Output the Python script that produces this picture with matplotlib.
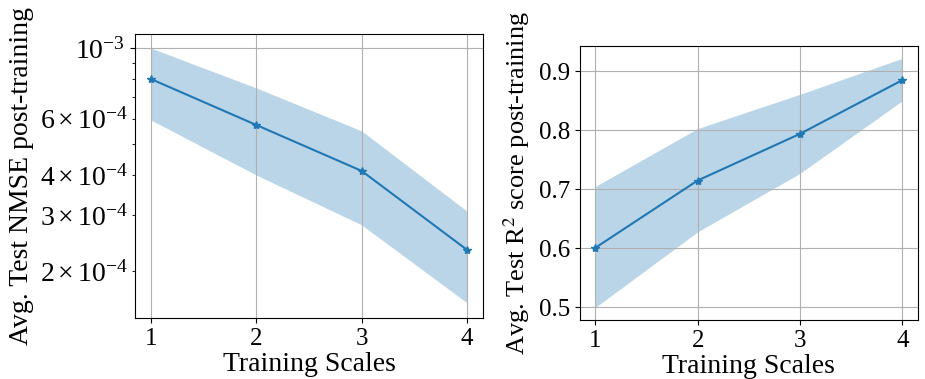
import numpy as np
import matplotlib
matplotlib.use("Agg")
import matplotlib.pyplot as plt

plt.rcParams['font.family'] = ['Liberation Serif', 'DejaVu Serif']
plt.rcParams['mathtext.fontset'] = 'stix'
plt.rcParams['font.size'] = 20
plt.rcParams['xtick.labelsize'] = 18
plt.rcParams['ytick.labelsize'] = 18

# scale di training
scales = [1, 2, 3, 4]

# NMSE medio e banda
nmse_mean = [8.0e-4, 5.74e-4, 4.12e-4, 2.33e-4]
nmse_upper = [1.0e-3, 7.5e-4, 5.5e-4, 3.08e-4]
nmse_lower = [5.95e-4, 4.0e-4, 2.79e-4, 1.59e-4]

# R2 medio e banda
r2_mean = [0.601, 0.715, 0.794, 0.885]
r2_upper = [0.705, 0.803, 0.861, 0.922]
r2_lower = [0.500, 0.628, 0.727, 0.850]

fig = plt.figure(figsize=(9.25, 3.79), dpi=100)
ax1 = fig.add_axes([0.146, 0.161, 0.376, 0.749])
ax2 = fig.add_axes([0.627, 0.156, 0.365, 0.723])

ax1.plot(scales, nmse_mean, marker='*', markersize=6, color='tab:blue', lw=1.5)
ax1.fill_between(scales, nmse_lower, nmse_upper, color='tab:blue', alpha=0.3, lw=0)
ax1.set_yscale('log')
ax1.set_ylim(1.425e-4, 1.106e-3)
ax1.set_xticks(scales)
ax1.tick_params(axis='y', which='both', labelsize=20)
ax1.grid(True)
ax1.set_xlabel('Training Scales', labelpad=2)
ax1.set_ylabel('Avg. Test NMSE post-training', labelpad=4)

ax2.plot(scales, r2_mean, marker='*', markersize=6, color='tab:blue', lw=1.5)
ax2.fill_between(scales, r2_lower, r2_upper, color='tab:blue', alpha=0.3, lw=0)
ax2.set_xticks(scales)
ax2.set_yticks([0.5, 0.6, 0.7, 0.8, 0.9])
ax2.grid(True)
ax2.set_xlabel('Training Scales', labelpad=2)
ax2.set_ylabel('Avg. Test R$^2$ score post-training', fontsize=19, labelpad=5)

fig.savefig('out.png', dpi=100)
